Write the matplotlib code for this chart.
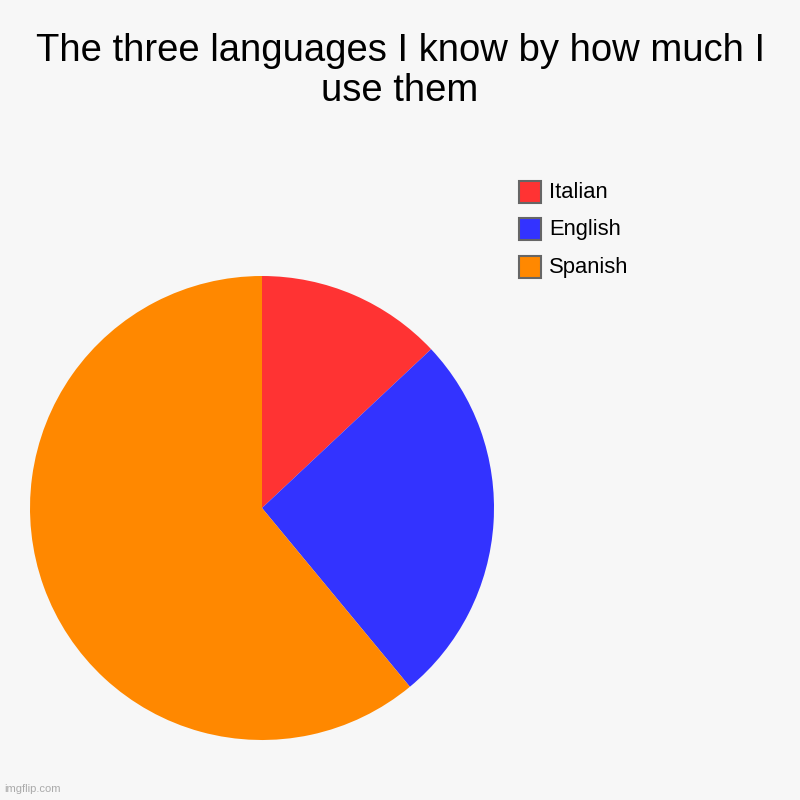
import matplotlib.pyplot as plt
from matplotlib.patches import Rectangle

# data
labels = ['Italian', 'English', 'Spanish']
values = [13, 26, 61]
colors = ['#ff3333', '#3333ff', '#ff8800']
title = 'The three languages I know by how much I\nuse them'

bg = '#f7f7f7'
plt.rcParams['font.family'] = ['Liberation Sans', 'DejaVu Sans']

fig = plt.figure(figsize=(8, 8), dpi=100, facecolor=bg)

# pie: center (262, 508) px, radius 232 px
ax = fig.add_axes([30 / 800, 60 / 800, 464 / 800, 464 / 800])
ax.set_facecolor(bg)
ax.pie(values, colors=colors, startangle=90, counterclock=False,
       radius=1, wedgeprops={'linewidth': 0})
ax.set_xlim(-1, 1)
ax.set_ylim(-1, 1)
ax.set_aspect('equal')
ax.axis('off')

# title (two lines, baseline of the last one at y=101 px)
fig.text(0.5, 1 - 101 / 800, title, ha='center', va='baseline',
         fontsize=27.5, color='black', linespacing=1.15)

# legend
for i, (lab, col) in enumerate(zip(labels, colors)):
    y_top = 181 + i * 37.5
    fig.add_artist(Rectangle((519 / 800, 1 - (y_top + 22) / 800), 22 / 800, 22 / 800,
                             transform=fig.transFigure, facecolor=col,
                             edgecolor='#666666', linewidth=1.5))
    fig.text(549 / 800, 1 - (y_top + 11) / 800, lab, ha='left', va='center',
             fontsize=15.8, color='black')

fig.text(4 / 800, 1 - 792 / 800, 'imgflip.com', fontsize=8, color='#aaaaaa',
         va='baseline')

fig.savefig('out.png', dpi=100, facecolor=bg)
